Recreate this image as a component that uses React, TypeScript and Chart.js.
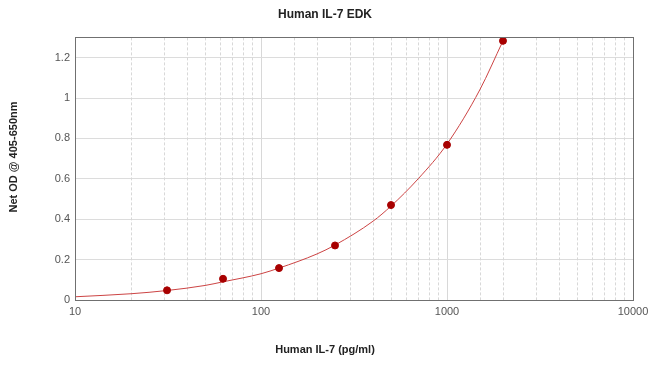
import React, { useEffect, useRef } from "react";
import { Chart, registerables } from "chart.js";

Chart.register(...registerables);

const chartTitle = "Human IL-7 EDK";
const xTitle = "Human IL-7 (pg/ml)";
const yTitle = "Net OD @ 405-650nm";

const concentrations = [31.25, 62.5, 125, 250, 500, 1000, 2000];
const netOD = [0.048, 0.105, 0.158, 0.27, 0.47, 0.768, 1.283];

const fitX = [10, 20, 31.25, 50, 62.5, 100, 125, 200, 250, 400, 500, 700, 1000, 1500, 2000];
const fitY = [0.016, 0.031, 0.047, 0.072, 0.09, 0.13, 0.158, 0.228, 0.272, 0.39, 0.465, 0.6, 0.772, 1.04, 1.283];

const FONT = "'Liberation Sans', Arial, sans-serif";

const frameAndMinorGrid = {
  id: "frameAndMinorGrid",
  beforeDatasetsDraw(chart: any) {
    const { ctx, chartArea, scales } = chart;
    const xs = scales.x;
    ctx.save();
    ctx.strokeStyle = "#d8d8d8";
    ctx.lineWidth = 1;
    ctx.setLineDash([3, 2]);
    xs.ticks.forEach((t: any) => {
      const lg = Math.log10(t.value);
      if (Math.abs(lg - Math.round(lg)) < 1e-9) return;
      const px = Math.round(xs.getPixelForValue(t.value)) + 0.5;
      ctx.beginPath();
      ctx.moveTo(px, chartArea.top);
      ctx.lineTo(px, chartArea.bottom);
      ctx.stroke();
    });
    ctx.restore();
  },
  afterDatasetsDraw(chart: any) {
    const { ctx, chartArea } = chart;
    ctx.save();
    ctx.strokeStyle = "#707070";
    ctx.lineWidth = 1;
    ctx.strokeRect(
      Math.round(chartArea.left) + 0.5,
      Math.round(chartArea.top) + 0.5,
      Math.round(chartArea.right - chartArea.left),
      Math.round(chartArea.bottom - chartArea.top)
    );
    ctx.restore();
  },
  afterDraw(chart: any) {
    const { ctx } = chart;
    ctx.save();
    ctx.fillStyle = "#222";
    ctx.font = `bold 11px ${FONT}`;
    ctx.textAlign = "center";
    ctx.textBaseline = "middle";
    ctx.fillText(xTitle, 325, 350);
    ctx.translate(14, 157);
    ctx.rotate(-Math.PI / 2);
    ctx.fillText(yTitle, 0, 0);
    ctx.restore();
  },
};

export default function App() {
  const ref = useRef<HTMLCanvasElement | null>(null);

  useEffect(() => {
    document.body.style.margin = "0";
    const canvas = ref.current;
    if (!canvas) return;
    const chart = new Chart(canvas, {
      type: "scatter",
      data: {
        datasets: [
          {
            type: "line",
            label: "fit",
            data: fitX.map((x, i) => ({ x, y: fitY[i] })),
            borderColor: "#cc4444",
            borderWidth: 1,
            pointRadius: 0,
            cubicInterpolationMode: "monotone",
            fill: false,
            order: 2,
          } as any,
          {
            label: "standards",
            data: concentrations.map((x, i) => ({ x, y: netOD[i] })),
            backgroundColor: "#a80000",
            borderColor: "#a80000",
            pointRadius: 3.5,
            showLine: false,
            order: 1,
          },
        ],
      },
      options: {
        animation: false,
        responsive: false,
        events: [],
        layout: { padding: { left: 0, right: 0, top: 0, bottom: 0 } },
        plugins: {
          legend: { display: false },
          tooltip: { enabled: false },
          title: {
            display: true,
            text: chartTitle,
            color: "#222",
            font: { family: FONT, size: 12, weight: "bold" },
            padding: { top: 7, bottom: 16 },
          },
        },
        scales: {
          x: {
            type: "logarithmic",
            min: 10,
            max: 10000,
            border: { display: false },
            grid: {
              drawTicks: false,
              color: (c: any) => {
                const v = c.tick ? c.tick.value : 0;
                const lg = Math.log10(v);
                return Math.abs(lg - Math.round(lg)) < 1e-9 ? "#d8d8d8" : "rgba(0,0,0,0)";
              },
            },
            ticks: {
              autoSkip: false,
              maxRotation: 0,
              padding: 5,
              color: "#555",
              font: { family: FONT, size: 11 },
              callback: (v: any) => {
                const lg = Math.log10(Number(v));
                return Math.abs(lg - Math.round(lg)) < 1e-9 ? String(Number(v)) : "";
              },
            },
            afterFit: (s: any) => {
              s.height = 81;
              s.paddingRight = 17;
            },
          },
          y: {
            type: "linear",
            min: 0,
            max: 1.3,
            border: { display: false },
            grid: {
              drawTicks: false,
              color: (c: any) => (c.tick && Math.abs(c.tick.value - 1.3) < 1e-9 ? "rgba(0,0,0,0)" : "#dcdcdc"),
            },
            ticks: {
              stepSize: 0.2,
              padding: 5,
              color: "#555",
              font: { family: FONT, size: 11 },
              callback: (v: any) => {
                const n = Number(v);
                if (Math.abs(n - 1.3) < 1e-9) return "";
                return String(Math.round(n * 10) / 10);
              },
            },
            afterFit: (s: any) => {
              s.width = 75;
            },
          },
        },
      },
      plugins: [frameAndMinorGrid],
    } as any);
    return () => chart.destroy();
  }, []);

  return (
    <div style={{ width: 650, height: 381 }}>
      <canvas ref={ref} width={650} height={381} style={{ display: "block" }} />
    </div>
  );
}
